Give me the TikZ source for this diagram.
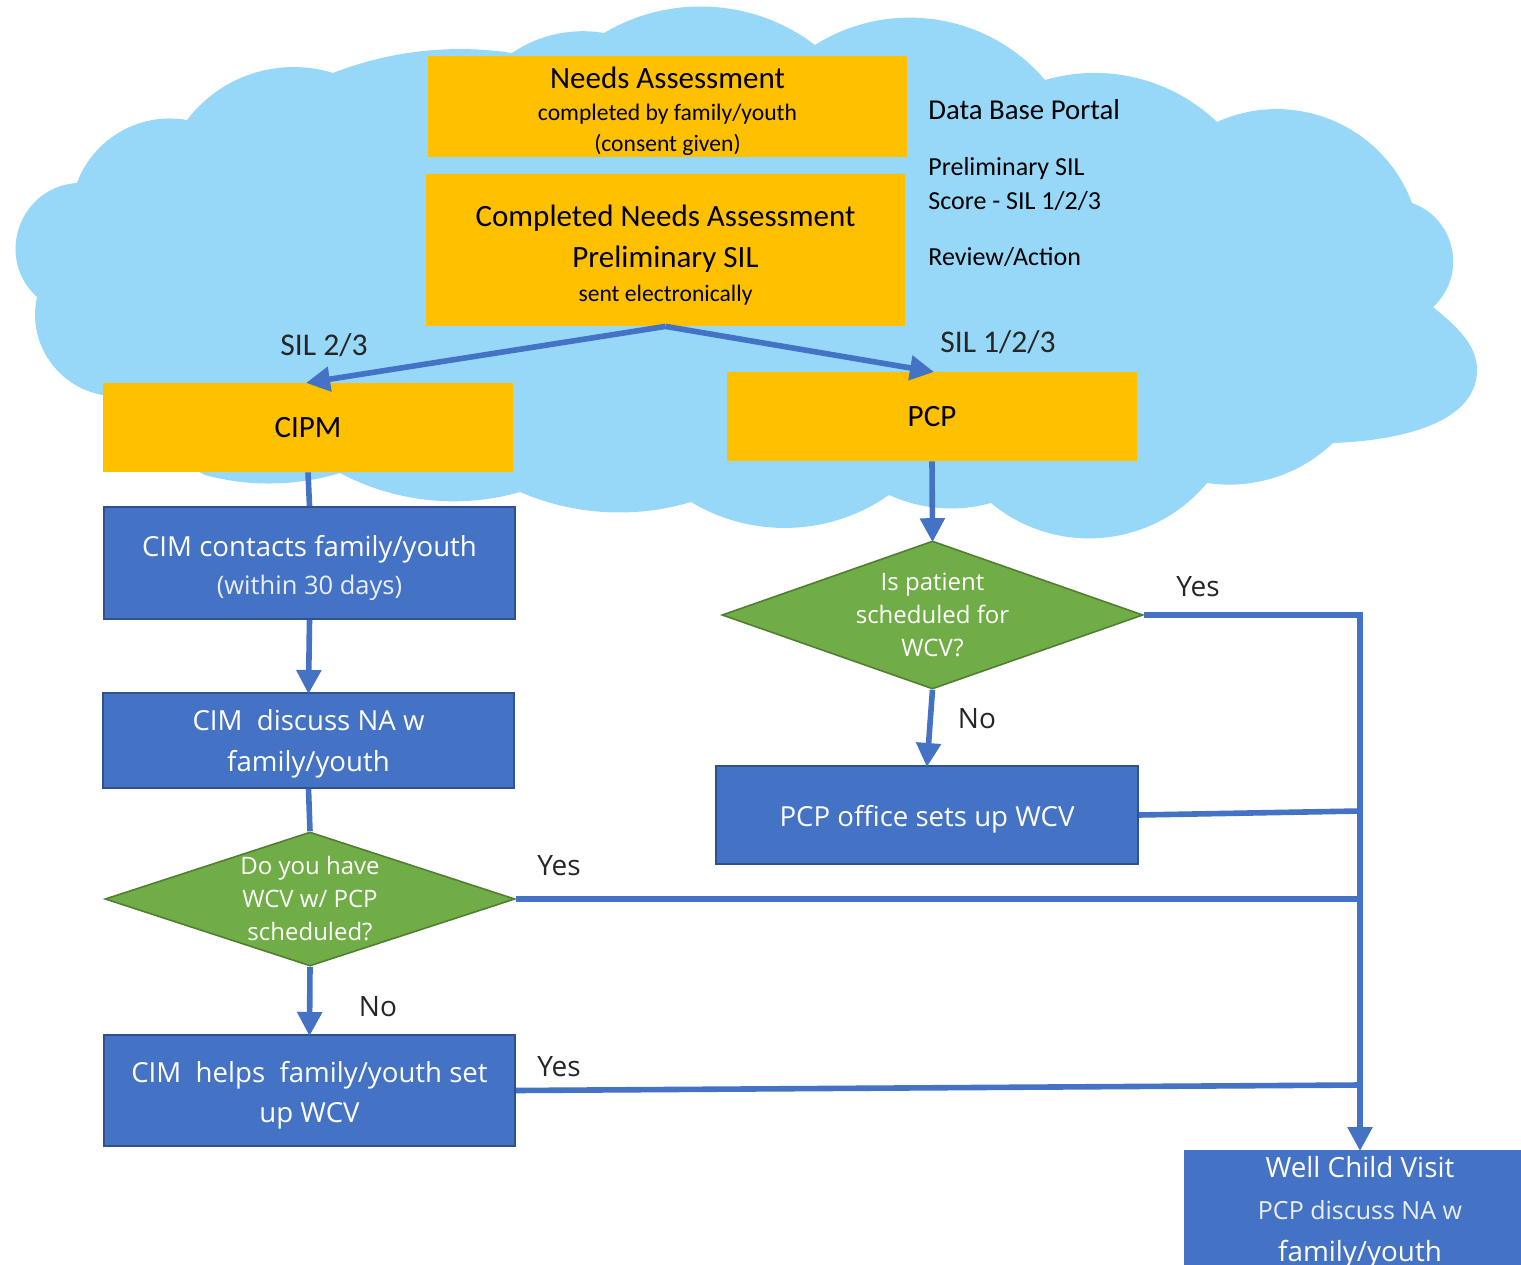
\documentclass[tikz,border=0pt]{standalone}
\usepackage{fontspec}
\setmainfont{Carlito}
\newfontfamily\uifont{Open Sans}
\usetikzlibrary{arrows.meta,shapes.geometric}

\definecolor{cloudblue}{RGB}{151,215,247}
\definecolor{gold}{RGB}{255,192,0}
\definecolor{boxblue}{RGB}{68,114,196}
\definecolor{edgeblue}{RGB}{47,82,143}
\definecolor{leaf}{RGB}{112,173,71}
\definecolor{leafedge}{RGB}{80,126,50}
\definecolor{ink}{RGB}{38,38,38}

% invisible strut that pushes a line of text down
\newcommand{\topstrut}[1]{\rule{0pt}{#1}}

\tikzset{
  % circular-looking cloud bump between two cusps; #1 = half arc angle
  bump/.code={%
    \pgfmathsetmacro\bumploose{0.6667*tan(#1/2)/(sin(#1)*0.3915)}%
    \edef\bumpargs{\noexpand\tikzset{bend left=#1,looseness=\bumploose}}\bumpargs},
  goldbox/.style={rectangle, fill=gold, inner sep=0pt, align=center, text=black},
  bluebox/.style={rectangle, fill=boxblue, draw=edgeblue, line width=1pt,
    inner sep=0pt, align=center, text=white, font=\uifont},
  decision/.style={diamond, fill=leaf, draw=leafedge, line width=0.8pt, inner sep=0pt},
  dtext/.style={align=center, text=white, inner sep=0pt,
    font=\uifont\fontsize{12}{16.5}\selectfont},
  note/.style={anchor=west, inner sep=0pt, text=black, align=left},
  tag/.style={inner sep=0pt, text=ink, font=\uifont\fontsize{14}{16}\selectfont},
  siltag/.style={inner sep=0pt, text=ink, font=\fontsize{15.8}{18}\selectfont},
  flow/.style={draw=boxblue, line width=2.8pt,
    -{Triangle[width=12pt,length=12pt]}, shorten >=-1pt},
  link/.style={draw=boxblue, line width=2.8pt}
}

\begin{document}
\begin{tikzpicture}[x=0.5pt, y=-0.5pt]
\useasboundingbox (0,0) rectangle (1521,1264);
\clip (0,0) rectangle (1521,1264);

% the cloud behind the upper part of the chart
\fill[cloudblue] (77,183) to[bump=40] (187,120) to[bump=35] (333,73)
  to[bump=15] (512,53) to[bump=22] (604,33) to[bump=34] (815,45)
  to[bump=41] (1045,80) to[bump=30] (1217,122) to[bump=47] (1412,203)
  to[bump=59] (1433,307)
  to[out=-40,in=90,looseness=0.9] (1477,370)
  to[out=-90,in=2,looseness=0.9] (1333,443)
  to[bump=26] (1207,483)
  to[bump=45] (991,503) to[bump=20] (889,495) to[bump=33] (691,502)
  to[bump=20] (520,492) to[bump=22] (340,473) to[bump=16] (205,475)
  to[bump=20] (130,395) to[bump=56] (37,297) to[bump=67] (77,183) -- cycle;

% top boxes
\node[goldbox, minimum width=239.5pt, minimum height=50.5pt,
      font=\fontsize{11.8}{15.5}\selectfont] (na) at (667.5,106.5)
  {{\fontsize{15.5}{18}\selectfont\topstrut{16pt}Needs Assessment}\\[0.5pt]
   completed by family/youth\\ (consent given)};
\node[goldbox, minimum width=239.5pt, minimum height=76pt,
      font=\fontsize{15.5}{20.5}\selectfont] (cna) at (665.5,250)
  {\topstrut{16pt}Completed Needs Assessment\\ Preliminary SIL\\[-3.5pt]
   {\fontsize{11.8}{12}\selectfont sent electronically}};

% portal notes
\node[note, font=\fontsize{14.4}{16}\selectfont] (portal) at (928,110) {Data Base Portal};
\node[note, font=\fontsize{13}{17}\selectfont] (score) at (928,184)
  {Preliminary SIL\\ Score - SIL 1/2/3};
\node[note, font=\fontsize{13}{14}\selectfont] (review) at (928,257) {Review/Action};

% routing
\node[goldbox, minimum width=205pt, minimum height=44.5pt,
      font=\fontsize{15.5}{17}\selectfont] (cipm) at (308,427.5) {CIPM};
\node[goldbox, minimum width=205pt, minimum height=44.5pt,
      font=\fontsize{15.5}{17}\selectfont] (pcp) at (932,416.5) {PCP};
\node[siltag] (sil23) at (324,345) {SIL 2/3};
\node[siltag] (sil123) at (998,342) {SIL 1/2/3};

% left column
\node[bluebox, minimum width=205.5pt, minimum height=56pt] (contacts) at (309.5,563)
  {{\fontsize{13.8}{16}\selectfont\topstrut{15.5pt}CIM contacts family/youth}\\[5pt]
   {\fontsize{12.75}{14}\selectfont\color{white!88!boxblue}(within 30 days)}};
\node[bluebox, minimum width=205.5pt, minimum height=47.5pt,
      font=\uifont\fontsize{13.8}{20.5}\selectfont] (discuss) at (308.5,740.5)
  {\topstrut{14pt}CIM~ discuss NA w\\ family/youth};
\node[decision, minimum width=205pt, minimum height=67pt] (d1) at (310,899) {};
\node[dtext] (d1 text) at (d1) {Do you have\\ WCV w/ PCP\\ scheduled?};
\node[bluebox, minimum width=205.5pt, minimum height=55.5pt,
      font=\uifont\fontsize{13.8}{20}\selectfont] (helps) at (309.5,1090.5)
  {\topstrut{15pt}CIM~ helps~ family/youth set\\ up WCV};

% right column
\node[decision, minimum width=210.5pt, minimum height=74pt] (d2) at (932.5,615) {};
\node[dtext] (d2 text) at (d2) {Is patient\\ scheduled for\\ WCV?};
\node[bluebox, minimum width=211pt, minimum height=49pt,
      font=\uifont\fontsize{13.8}{16}\selectfont] (office) at (927,815)
  {\topstrut{14.5pt}PCP office sets up WCV};
\node[bluebox, draw=none, minimum width=176pt, minimum height=62pt, anchor=north,
      font=\uifont\fontsize{13.9}{20.5}\selectfont] (wcv) at (1360,1149)
  {Well Child Visit\\[0.5pt]
   {\fontsize{12.5}{14}\selectfont\color{white!88!boxblue}PCP discuss NA w}\\[0.5pt]
   family/youth};

% connectors
\draw[flow] (cna.south) -- (cipm.north);
\draw[flow] (cna.south) -- (pcp.north);
\draw[link] (cipm.south) -- (contacts.north);
\draw[flow] (contacts.south) -- (discuss.north);
\draw[link] (discuss.south) -- (d1.north);
\draw[flow] (d1.south) -- (helps.north);
\draw[flow] (pcp.south) -- (d2.north);
\draw[flow] (d2.south) -- (office.north);

\coordinate (yes bend) at (1360,615);
\coordinate (from office) at (1360,811);
\coordinate (from d1) at (1360,899);
\coordinate (from helps) at (1360,1085);
\draw[flow] (d2.east) -- (yes bend) -- (wcv.north);
\draw[link] (office.east) -- (from office);
\draw[link] (d1.east) -- (from d1);
\draw[link] (helps.east) -- (from helps);

% branch labels
\node[tag] (yes1) at (1198,587) {Yes};
\node[tag] (no1) at (977,719) {No};
\node[tag] (yes2) at (559,866) {Yes};
\node[tag] (no2) at (378,1007) {No};
\node[tag] (yes3) at (559,1067) {Yes};
\end{tikzpicture}
\end{document}
